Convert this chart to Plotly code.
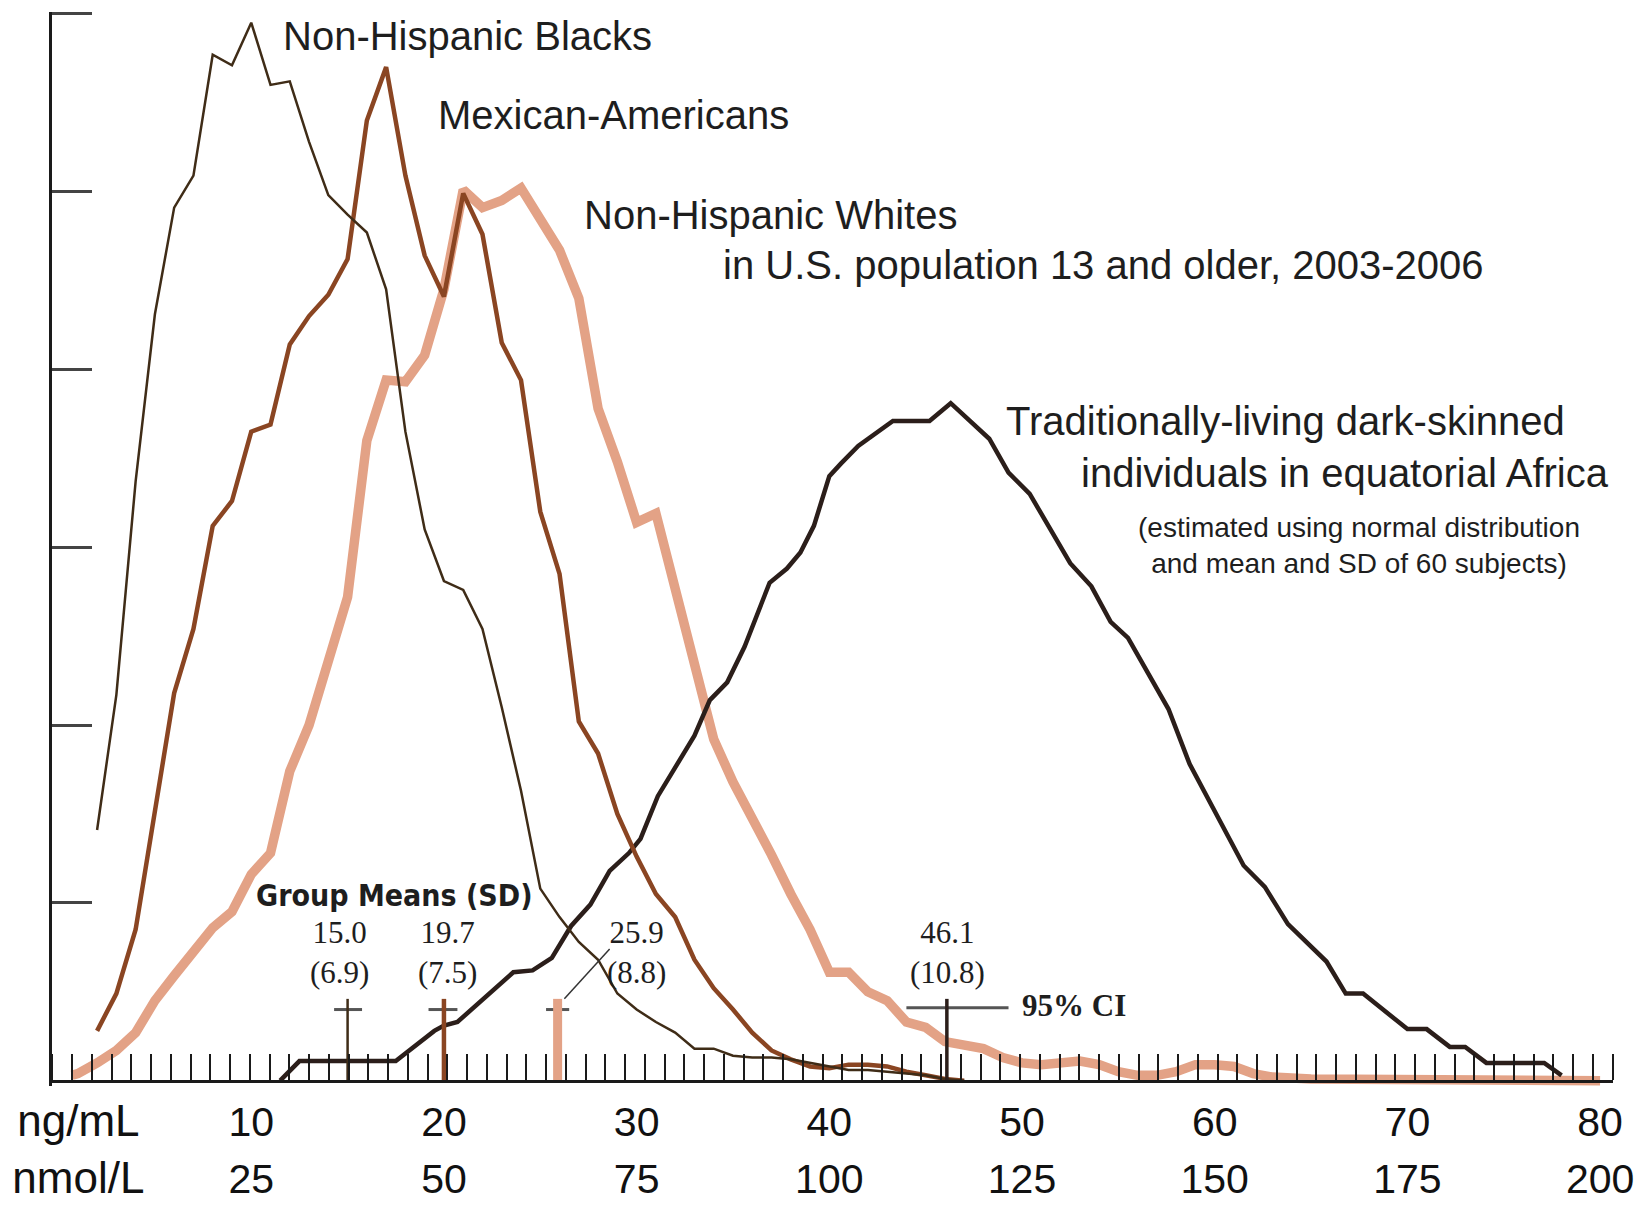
import plotly.graph_objects as go

# ---------------- data (ng/mL on x, relative frequency units on y) ----------------
blacks_x = list(range(2, 48))
blacks_y = [1.41, 2.17, 3.37, 4.31, 4.91, 5.09, 5.77, 5.71, 5.95, 5.60,
            5.62, 5.28, 4.98, 4.87, 4.77, 4.45, 3.65, 3.10, 2.81, 2.76,
            2.54, 2.10, 1.63, 1.08, 0.92, 0.78, 0.68, 0.49, 0.40, 0.33,
            0.27, 0.18, 0.18, 0.14, 0.13, 0.13, 0.12, 0.10, 0.08, 0.06,
            0.06, 0.05, 0.04, 0.03, 0.01, 0.00]

mex_x = list(range(2, 48))
mex_y = [0.28, 0.49, 0.85, 1.50, 2.18, 2.54, 3.12, 3.26, 3.65, 3.69,
         4.14, 4.30, 4.42, 4.62, 5.40, 5.70, 5.09, 4.64, 4.41, 4.99,
         4.76, 4.15, 3.94, 3.20, 2.85, 2.02, 1.84, 1.50, 1.26, 1.05,
         0.92, 0.68, 0.52, 0.40, 0.27, 0.17, 0.12, 0.08, 0.07, 0.09,
         0.09, 0.08, 0.05, 0.03, 0.01, 0.00]

whites_x = [0.7] + list(range(1, 64)) + [65, 70, 75, 80]
whites_y = [0.03, 0.04, 0.10, 0.17, 0.27, 0.45, 0.59, 0.72, 0.86, 0.95,
            1.16, 1.28, 1.74, 2.00, 2.34, 2.72, 3.60, 3.94, 3.93, 4.08,
            4.45, 5.01, 4.91, 4.95, 5.02, 4.85, 4.67, 4.40, 3.78, 3.48,
            3.14, 3.19, 2.75, 2.32, 1.92, 1.68, 1.48, 1.27, 1.05, 0.85,
            0.61, 0.61, 0.50, 0.45, 0.33, 0.30, 0.22, 0.20, 0.18, 0.13,
            0.10, 0.09, 0.10, 0.11, 0.09, 0.05, 0.03, 0.03, 0.05, 0.09,
            0.09, 0.08, 0.04, 0.02, 0.01, 0.01, 0.01, 0.00]

africa_x = [11.5, 12.5, 17.5, 19.5, 20.0, 20.7, 23.6, 24.6, 25.6, 26.6,
            27.6, 28.6, 29.6, 30.2, 31.1, 32.1, 33.0, 33.8, 34.7, 35.6,
            36.3, 36.9, 37.8, 38.5, 39.2, 40.0, 40.6, 41.5, 43.3, 45.2,
            46.3, 48.3, 49.3, 50.4, 52.5, 53.6, 54.6, 55.5, 57.6, 58.7,
            61.5, 62.6, 63.8, 65.8, 66.8, 67.7, 70.0, 71.0, 72.2, 73.0,
            74.1, 77.1, 78.0]
africa_y = [0.00, 0.11, 0.11, 0.28, 0.31, 0.33, 0.61, 0.62, 0.69, 0.87,
            0.99, 1.18, 1.28, 1.36, 1.60, 1.78, 1.94, 2.14, 2.24, 2.44,
            2.64, 2.80, 2.88, 2.97, 3.12, 3.40, 3.47, 3.57, 3.71, 3.71,
            3.81, 3.61, 3.42, 3.30, 2.91, 2.78, 2.58, 2.49, 2.09, 1.78,
            1.21, 1.09, 0.88, 0.67, 0.49, 0.49, 0.29, 0.29, 0.19, 0.19,
            0.10, 0.10, 0.03]

# group means (marker positions as drawn), their labels and 95% CI bars
mean_x = [15.0, 20.0, 25.9, 46.1]
mean_top = [0.46, 0.46, 0.46, 0.46]
ci_lo = [14.3, 19.2, 25.3, 44.0]
ci_hi = [15.75, 20.7, 26.5, 49.3]
ci_y = [0.40, 0.40, 0.40, 0.41]
mean_labels = ["15.0<br>(6.9)", "19.7<br>(7.5)", "25.9<br>(8.8)", "46.1<br>(10.8)"]
mean_label_x = [14.6, 20.2, 30.0, 46.14]
leader_x = [26.25, 28.6]
leader_y = [0.46, 0.74]

ng_ticks = [10, 20, 30, 40, 50, 60, 70, 80]
nmol_ticks = [25, 50, 75, 100, 125, 150, 175, 200]
unit_label_x = 1.03

# ---------------- styles ----------------
C_BLACKS = "#3f2c17"
C_MEX = "#8a4522"
C_WHITES = "#e3a286"
C_AFRICA = "#2b1e1a"
C_TEXT = "#1e1e1e"
SANS = "Liberation Sans, Arial, sans-serif"
SERIF = "Liberation Serif, Times New Roman, serif"

fig = go.Figure()

fig.add_trace(go.Scatter(x=whites_x, y=whites_y, mode="lines",
                         line=dict(color=C_WHITES, width=9.5), hoverinfo="skip"))
fig.add_trace(go.Scatter(x=africa_x, y=africa_y, mode="lines",
                         line=dict(color=C_AFRICA, width=4.5), hoverinfo="skip"))
fig.add_trace(go.Scatter(x=mex_x, y=mex_y, mode="lines",
                         line=dict(color=C_MEX, width=4.5), hoverinfo="skip"))
fig.add_trace(go.Scatter(x=blacks_x, y=blacks_y, mode="lines",
                         line=dict(color=C_BLACKS, width=2.5), hoverinfo="skip"))

# CI bars (gray) then mean verticals
for lo, hi, cy in zip(ci_lo, ci_hi, ci_y):
    fig.add_trace(go.Scatter(x=[lo, hi], y=[cy, cy], mode="lines",
                             line=dict(color="#555555", width=3), hoverinfo="skip"))
mean_colors = [C_BLACKS, C_MEX, C_WHITES, C_AFRICA]
mean_widths = [2.5, 4.5, 9, 3.5]
for mx, mt, mc, mw in zip(mean_x, mean_top, mean_colors, mean_widths):
    fig.add_trace(go.Scatter(x=[mx, mx], y=[0, mt], mode="lines",
                             line=dict(color=mc, width=mw), hoverinfo="skip"))
fig.add_trace(go.Scatter(x=leader_x, y=leader_y, mode="lines",
                         line=dict(color="#333333", width=1.5), hoverinfo="skip"))

# invisible carrier trace for the second (nmol/L) label axis
fig.add_trace(go.Scatter(x=ng_ticks, y=[0] * len(ng_ticks), xaxis="x2", mode="lines",
                         line=dict(width=0), opacity=0, hoverinfo="skip"))

ann = []
def text(x, y, t, size, family=SANS, xanchor="left", align="left", bold=False):
    if bold:
        t = "<b>" + t + "</b>"
    ann.append(dict(x=x, y=y, xref="x", yref="y", text=t, showarrow=False,
                    xanchor=xanchor, yanchor="middle", align=align,
                    font=dict(family=family, size=size, color=C_TEXT)))

text(11.52, 5.877, "Non-Hispanic Blacks", 40)
text(19.6, 5.43, "Mexican-Americans", 40)
text(27.15, 4.87, "Non-Hispanic Whites", 40)
text(34.4, 4.59, "in U.S. population 13 and older, 2003-2006", 40)
text(49.07, 3.71, "Traditionally-living dark-skinned", 40)
text(52.98, 3.42, "individuals in equatorial Africa", 40)
text(67.5, 3.01, "(estimated using normal distribution<br>and mean and SD of 60 subjects)",
     28, xanchor="center", align="center")
text(17.44, 1.041, "Group Means (SD)", 30,
     family="DejaVu Sans Condensed, DejaVu Sans, sans-serif", xanchor="center", bold=True)
for lx, lt in zip(mean_label_x, mean_labels):
    text(lx, 0.722, lt, 31, family=SERIF, xanchor="center", align="center")
text(49.88, 0.421, "95% CI", 31, family=SERIF, bold=True)

UNIT = '<span style="font-size:44px">{}</span>'
XRANGE = [-0.34, 80.67]
AXPOS = 0.03 / 6.04

fig.update_layout(
    width=1646, height=1214,
    margin=dict(l=52, r=26, t=12, b=117),
    paper_bgcolor="white", plot_bgcolor="white",
    showlegend=False,
    annotations=ann,
    xaxis=dict(range=XRANGE, anchor="free", position=AXPOS,
               showline=True, linecolor="#1a1a1a", linewidth=2.5,
               showgrid=False, zeroline=False,
               tickmode="array", tickvals=[unit_label_x] + ng_ticks,
               ticktext=[UNIT.format("ng/mL")] + [str(v) for v in ng_ticks], ticks="",
               tickfont=dict(family=SANS, size=41, color="#111111"),
               ticklabelstandoff=4,
               minor=dict(ticks="inside", ticklen=26, tickwidth=2, tickcolor="#1a1a1a",
                          tick0=0.7, dtick=1.025, showgrid=False)),
    xaxis2=dict(range=XRANGE, overlaying="x", anchor="free", position=AXPOS,
                side="bottom", showline=False, showgrid=False, zeroline=False,
                tickmode="array", tickvals=[unit_label_x] + ng_ticks,
                ticktext=[UNIT.format("nmol/L")] + [str(v) for v in nmol_ticks], ticks="",
                tickfont=dict(family=SANS, size=41, color="#111111"),
                ticklabelstandoff=70),
    yaxis=dict(range=[-0.03, 6.01], showline=True, linecolor="#1a1a1a", linewidth=2.5,
               showgrid=False, zeroline=False, showticklabels=False,
               tickmode="array", tickvals=[1, 2, 3, 4, 5, 6], ticks="inside",
               ticklen=40, tickwidth=2.5, tickcolor="#444444"),
)

fig.write_html("out.html", config={"displayModeBar": False},
               post_script="document.body.style.margin='0';document.body.style.overflow='hidden';")
